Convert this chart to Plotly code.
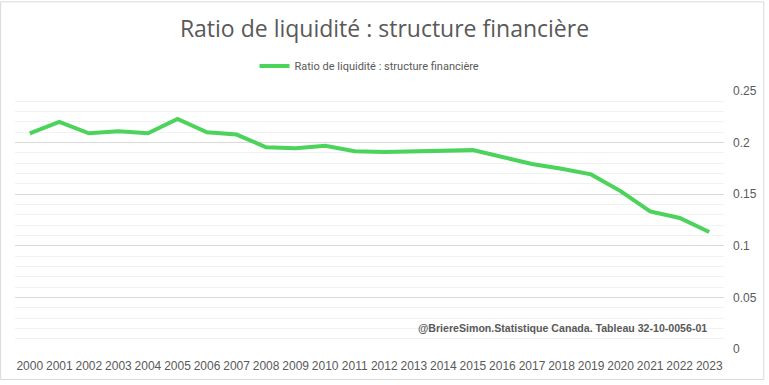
import plotly.graph_objects as go

years = [str(y) for y in range(2000, 2024)]
ratio = [0.209, 0.220, 0.209, 0.211, 0.209, 0.223, 0.210, 0.2078,
         0.1955, 0.1946, 0.197, 0.1917, 0.1908, 0.1917, 0.1927, 0.1927,
         0.186, 0.1793, 0.1746, 0.1692, 0.153, 0.1333, 0.127, 0.1133]
y_ticks = [0, 0.05, 0.1, 0.15, 0.2, 0.25]
y_tick_labels = ["0", "0.05", "0.1", "0.15", "0.2", "0.25"]
series_name = "Ratio de liquidité : structure financière"
title_text = "Ratio de liquidité : structure financière"
source_text = "@BriereSimon.Statistique Canada. Tableau 32-10-0056-01"

fig = go.Figure()
fig.add_trace(go.Scatter(
    x=years, y=ratio, mode="lines", name=series_name,
    line=dict(color="#4CD35C", width=4),
))

fig.update_layout(
    width=769, height=385,
    margin=dict(l=15, r=41, t=91, b=32),
    paper_bgcolor="white", plot_bgcolor="white",
    title=dict(text=title_text, x=0.5, xanchor="center", y=0.926, yanchor="middle",
               font=dict(family="Open Sans, Noto Sans, sans-serif", size=23, color="#595959")),
    showlegend=True,
    legend=dict(orientation="h", x=0.5, xanchor="center", y=1.097, yanchor="middle",
                font=dict(family="Liberation Sans Narrow, Roboto, sans-serif", size=11, color="#595959"),
                bgcolor="rgba(0,0,0,0)"),
    xaxis=dict(type="category", range=[-0.5, 23.5], showgrid=False, showline=False,
               ticks="", ticklabelstandoff=8,
               tickfont=dict(family="Liberation Sans, Arial, sans-serif", size=12, color="#595959"),
               fixedrange=True),
    yaxis=dict(side="right", range=[0, 0.25], tickvals=y_ticks, ticktext=y_tick_labels,
               showgrid=True, gridcolor="#D9D9D9", gridwidth=1, zeroline=False, showline=False,
               ticks="", ticklabelstandoff=8,
               tickfont=dict(family="Liberation Sans, Arial, sans-serif", size=12, color="#595959"),
               minor=dict(dtick=0.01, tick0=0, showgrid=True, gridcolor="#F2F2F2", gridwidth=1)),
    shapes=[dict(type="rect", xref="paper", yref="paper", x0=-14.5/713, x1=(769-15-1)/713,
                 y0=-31/262, y1=(385-32-0.5)/262,
                 line=dict(color="#D9D9D9", width=1), fillcolor="rgba(0,0,0,0)", layer="below")],
    annotations=[dict(text=source_text, xref="x", yref="y", x=23, y=0.02,
                      xanchor="right", yanchor="middle", showarrow=False,
                      font=dict(family="Liberation Sans, Arial, sans-serif", size=10.6, color="#595959", weight="bold"))],
)

fig.write_html("out.html", config={"displayModeBar": False},
               post_script="document.body.style.margin='0';document.body.style.padding='0';")
